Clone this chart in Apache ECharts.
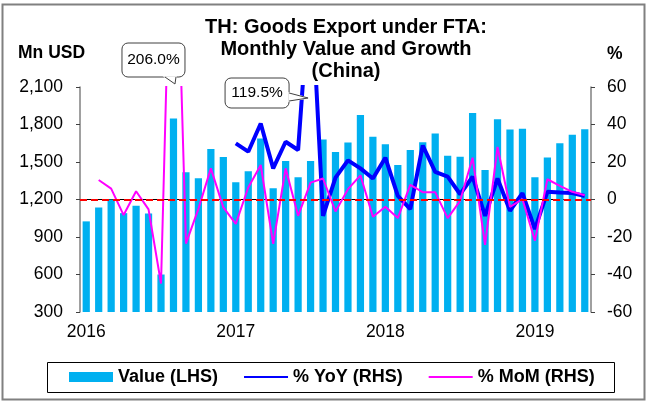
<!DOCTYPE html>
<html>
<head>
<meta charset="utf-8">
<script src="https://cdn.jsdelivr.net/npm/echarts@6.0.0/dist/echarts.min.js"></script>
<style>
html,body{margin:0;padding:0;background:#fff;}
#chart{width:647px;height:402px;}
</style>
</head>
<body>
<div id="chart"></div>
<script>
// ---- data ----
var months = [
  '2016-01','2016-02','2016-03','2016-04','2016-05','2016-06','2016-07','2016-08','2016-09','2016-10','2016-11','2016-12',
  '2017-01','2017-02','2017-03','2017-04','2017-05','2017-06','2017-07','2017-08','2017-09','2017-10','2017-11','2017-12',
  '2018-01','2018-02','2018-03','2018-04','2018-05','2018-06','2018-07','2018-08','2018-09','2018-10','2018-11','2018-12',
  '2019-01','2019-02','2019-03','2019-04','2019-05'
];
var valueLHS = [1025,1136,1200,1091,1150,1088,600,1848,1418,1370,1604,1540,
  1338,1426,1689,1290,1508,1378,1508,1681,1580,1657,1877,1702,
  1643,1476,1596,1659,1728,1550,1542,1893,1436,1843,1760,1766,
  1378,1537,1651,1718,1763];
var yoyRHS = [null,null,null,null,null,null,null,null,null,null,null,null,
  29.9,25.5,40.5,16.6,30.8,26.4,119.5,-8.7,11.7,20.9,16.6,11.2,
  22.3,1.9,-5.1,28.8,14.7,12.2,2.8,12.2,-8.7,11.2,-6.0,3.4,
  -15.8,4.1,3.7,3.5,1.9];
var momRHS = [null,10.4,5.8,-8.3,4.4,-5.3,-44.8,206.0,-23.5,-5.0,16.6,-4.2,
  -13.0,6.4,18.4,-23.7,16.6,-8.7,9.0,11.2,-6.4,5.5,12.9,-9.2,
  -3.9,-9.9,7.8,3.9,3.9,-9.9,-0.7,22.3,-24.2,28.0,-3.9,0.2,
  -22.0,10.8,7.3,4.1,2.3];
var leftTicks = {min:300, max:2100, interval:300};
var rightTicks = {min:-60, max:60, interval:20};
var seriesNames = ['Value (LHS)','% YoY (RHS)','% MoM (RHS)'];
var titleText = 'TH: Goods Export under FTA:\nMonthly Value and Growth\n(China)';
var callouts = [
  {text:'206.0%', index:7},
  {text:'119.5%', index:18}
];

var FONT = '"Liberation Sans", Arial, sans-serif';
function fmtThousands(v){
  var s = String(Math.round(Math.abs(v)));
  s = s.replace(/\B(?=(\d{3})+(?!\d))/g, ',');
  return (v < 0 ? '-' : '') + s;
}

var chart = echarts.init(document.getElementById('chart'), null, {renderer:'canvas'});

var option = {
  animation:false,
  backgroundColor:'#fff',
  textStyle:{fontFamily:FONT},
  grid:{left:80, right:56, top:87, bottom:90, containLabel:false, outerBoundsMode:'none'},
  legend:{
    left:69, top:368, padding:0, itemGap:25, itemWidth:44, itemHeight:10,
    textStyle:{fontSize:18, fontWeight:'bold', color:'#000', fontFamily:FONT},
    data:[
      {name:seriesNames[0], icon:'rect'},
      {name:seriesNames[1], itemStyle:{opacity:0}},
      {name:seriesNames[2], itemStyle:{opacity:0}}
    ]
  },
  xAxis:{
    type:'category', data:months, boundaryGap:true,
    axisLine:{lineStyle:{color:'#000', width:1}},
    axisTick:{alignWithLabel:false, length:4, interval:function(i){return i%12===0;}, lineStyle:{color:'#000'}},
    axisLabel:{interval:function(i){return i%12===0;}, formatter:function(v){return v.slice(0,4);},
      margin:11, fontSize:17.5, color:'#000', fontFamily:FONT}
  },
  yAxis:[
    {type:'value', position:'left', min:leftTicks.min, max:leftTicks.max, interval:leftTicks.interval,
     splitLine:{show:false},
     axisLine:{show:true, lineStyle:{color:'#808080', width:1.5}},
     axisTick:{show:true, length:4, lineStyle:{color:'#404040'}},
     axisLabel:{margin:17, fontSize:17.5, color:'#000', fontFamily:FONT, formatter:fmtThousands}},
    {type:'value', position:'right', min:rightTicks.min, max:rightTicks.max, interval:rightTicks.interval,
     splitLine:{show:false},
     axisLine:{show:true, lineStyle:{color:'#808080', width:1.5}},
     axisTick:{show:true, length:4, lineStyle:{color:'#404040'}},
     axisLabel:{margin:16, fontSize:17.5, color:'#000', fontFamily:FONT}}
  ],
  series:[
    {name:seriesNames[0], type:'bar', yAxisIndex:0, data:valueLHS, barWidth:'58%',
     itemStyle:{color:'#00B0F0'}, z:1},
    {name:seriesNames[1], type:'line', yAxisIndex:1, data:yoyRHS, symbol:'none', connectNulls:false,
     lineStyle:{color:'#0000FF', width:4}, itemStyle:{color:'#0000FF'}, z:3,
     markLine:{silent:true, symbol:'none', label:{show:false},
       lineStyle:{color:'#FF0000', width:2, type:[7,4]}, data:[{yAxis:0}]}},
    {name:seriesNames[2], type:'line', yAxisIndex:1, data:momRHS, symbol:'none',
     lineStyle:{color:'#FF00FF', width:2}, itemStyle:{color:'#FF00FF'}, z:4}
  ]
};
chart.setOption(option);

var p1 = chart.convertToPixel({xAxisIndex:0, yAxisIndex:1}, [callouts[0].index, rightTicks.max]);
var p2 = chart.convertToPixel({xAxisIndex:0, yAxisIndex:1}, [callouts[1].index, rightTicks.max]);

var b1 = {x0:p1[0]-51.5, y0:p1[1]-44, x1:p1[0]+11.5, y1:p1[1]-10};
var b2 = {x0:p2[0]-85.5, y0:p2[1]-9, x1:p2[0]-21.5, y1:p2[1]+21};
var t1 = [[p1[0]-8.5, b1.y1], [p1[0]+1.5, p1[1]-3], [p1[0]+2.5, b1.y1]];
var t2 = [[b2.x1, p2[1]+6], [p2[0]-2.5, p2[1]+11], [b2.x1, p2[1]+14]];

function calloutEls(b, tail, txt){
  var coverTail = tail.map(function(p){return p.slice();});
  return [
    {type:'rect', z:100, silent:true, shape:{x:b.x0, y:b.y0, width:b.x1-b.x0, height:b.y1-b.y0, r:6},
     style:{fill:'#fff', stroke:'#404040', lineWidth:1}},
    {type:'polygon', z:101, silent:true, shape:{points:coverTail},
     style:{fill:'#fff', stroke:'#fff', lineWidth:1.5}},
    {type:'polyline', z:102, silent:true, shape:{points:tail},
     style:{fill:'none', stroke:'#404040', lineWidth:1}},
    {type:'text', z:103, silent:true, x:(b.x0+b.x1)/2, y:(b.y0+b.y1)/2,
     style:{text:txt, textAlign:'center', textVerticalAlign:'middle', font:'15.5px '+FONT, fill:'#000'}}
  ];
}

var graphics = [
  {type:'rect', z:-10, silent:true, shape:{x:2.5, y:4.5, width:642, height:395},
   style:{fill:'none', stroke:'#808080', lineWidth:2}},
  {type:'rect', z:-5, silent:true, shape:{x:47.5, y:362.5, width:567, height:30},
   style:{fill:'#fff', stroke:'#000', lineWidth:1}},
  {type:'text', silent:true, x:346, y:16, style:{text:titleText, textAlign:'center', textVerticalAlign:'top',
    font:'bold 20px '+FONT, lineHeight:22, fill:'#000'}},
  {type:'text', silent:true, x:18, y:44, style:{text:'Mn USD', textAlign:'left', textVerticalAlign:'top',
    font:'bold 17.5px '+FONT, fill:'#000'}},
  {type:'text', silent:true, x:607, y:45, style:{text:'%', textAlign:'left', textVerticalAlign:'top',
    font:'bold 17.5px '+FONT, fill:'#000'}}
].concat(calloutEls(b1, t1, callouts[0].text), calloutEls(b2, t2, callouts[1].text));
chart.setOption({graphic:graphics});
</script>
</body>
</html>
